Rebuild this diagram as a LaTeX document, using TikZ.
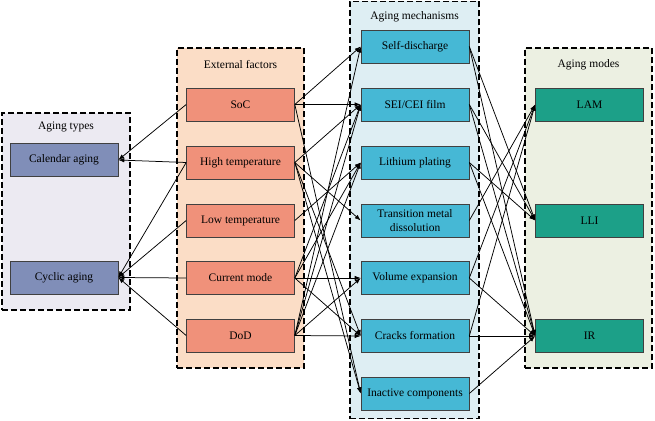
\documentclass[tikz,border=0pt]{standalone}
\usepackage{fontspec}
\setmainfont{Liberation Serif}
\usetikzlibrary{arrows.meta}

\definecolor{typesbg}{RGB}{236,234,242}
\definecolor{typesfill}{RGB}{128,142,184}
\definecolor{factbg}{RGB}{251,221,198}
\definecolor{factfill}{RGB}{240,145,122}
\definecolor{mechbg}{RGB}{222,238,243}
\definecolor{mechfill}{RGB}{70,184,213}
\definecolor{modebg}{RGB}{236,240,226}
\definecolor{modefill}{RGB}{28,160,136}

\begin{document}
\begin{tikzpicture}[x=1pt, y=-1pt, font=\fontsize{11.5}{14}\selectfont,
  group/.style = {draw, line width=1.1pt, dash pattern=on 6pt off 3pt, inner sep=0pt},
  main/.style = {draw=black!75, line width=0.6pt, minimum width=108pt, minimum height=33pt, inner sep=1pt, align=center},
  title/.style = {font=\fontsize{11.5}{13}\selectfont},
  link/.style = {-{Latex[length=6pt,width=4.5pt]}, line width=0.75pt}]
\useasboundingbox (0,0) rectangle (655,420);

% groups
\node[group, fill=typesbg, minimum width=128pt, minimum height=197pt] (types) at (66,211.5) {};
\node[group, fill=factbg, minimum width=127pt, minimum height=320pt] (factors) at (240.5,208) {};
\node[group, fill=mechbg, minimum width=129pt, minimum height=417pt] (mechs) at (414.5,210) {};
\node[group, fill=modebg, minimum width=127pt, minimum height=320pt] (modes) at (588.5,208) {};

\node[title] (typestitle) at (66,127) {Aging types};
\node[title] (factorstitle) at (240.5,65) {External factors};
\node[title] (mechstitle) at (414.5,17) {Aging mechanisms};
\node[title] (modestitle) at (588.5,65) {Aging modes};

% aging types
\node[main, fill=typesfill] (cal) at (64,160) {Calendar aging};
\node[main, fill=typesfill] (cyc) at (64,277.5) {Cyclic aging};

% external factors
\node[main, fill=factfill] (soc) at (240.5,104.5) {SoC};
\node[main, fill=factfill] (high) at (240.5,162.5) {High temperature};
\node[main, fill=factfill] (low) at (240.5,220.5) {Low temperature};
\node[main, fill=factfill] (cur) at (240.5,278) {Current mode};
\node[main, fill=factfill] (dod) at (240.5,335.5) {DoD};

% aging mechanisms
\node[main, fill=mechfill] (self) at (415,46.5) {Self-discharge};
\node[main, fill=mechfill] (sei) at (415,104.5) {SEI/CEI film};
\node[main, fill=mechfill] (lith) at (415,162.5) {Lithium plating};
\node[main, fill=mechfill] (tmd) at (415,220.5) {Transition metal\\dissolution};
\node[main, fill=mechfill] (vol) at (415,278) {Volume expansion};
\node[main, fill=mechfill] (crack) at (415,336) {Cracks formation};
\node[main, fill=mechfill] (inact) at (415,393.5) {Inactive components};

% aging modes
\node[main, fill=modefill] (lam) at (589.5,104.5) {LAM};
\node[main, fill=modefill] (lli) at (589.5,220.5) {LLI};
\node[main, fill=modefill] (ir) at (589.5,336) {IR};

% factors -> types
\draw[link] (soc.west) -- (cal.east);
\draw[link] (high.west) -- (cal.east);
\draw[link] (high.west) -- (cyc.east);
\draw[link] (low.west) -- (cyc.east);
\draw[link] (cur.west) -- (cyc.east);
\draw[link] (dod.west) -- (cyc.east);

% factors -> mechanisms
\draw[link] (soc.east) -- (self.west);
\draw[link] (soc.east) -- (sei.west);
\draw[link] (soc.east) -- (inact.west);
\draw[link] (high.east) -- (sei.west);
\draw[link] (high.east) -- (tmd.west);
\draw[link] (high.east) -- (inact.west);
\draw[link] (high.east) -- (crack.west);
\draw[link] (low.east) -- (lith.west);
\draw[link] (cur.east) -- (vol.west);
\draw[link] (cur.east) -- (crack.west);
\draw[link] (cur.east) -- (sei.west);
\draw[link] (cur.east) -- (lith.west);
\draw[link] (dod.east) -- (vol.west);
\draw[link] (dod.east) -- (crack.west);
\draw[link] (dod.east) -- (sei.west);
\draw[link] (dod.east) -- (lith.west);
\draw[link] (dod.east) -- (self.west);

% mechanisms -> modes
\draw[link] (self.east) -- (lli.west);
\draw[link] (self.east) -- (ir.west);
\draw[link] (sei.east) -- (lli.west);
\draw[link] (sei.east) -- (ir.west);
\draw[link] (lith.east) -- (lli.west);
\draw[link] (lith.east) -- (ir.west);
\draw[link] (tmd.east) -- (lam.west);
\draw[link] (vol.east) -- (lam.west);
\draw[link] (vol.east) -- (ir.west);
\draw[link] (crack.east) -- (lam.west);
\draw[link] (crack.east) -- (ir.west);
\draw[link] (inact.east) -- (ir.west);
\end{tikzpicture}
\end{document}
